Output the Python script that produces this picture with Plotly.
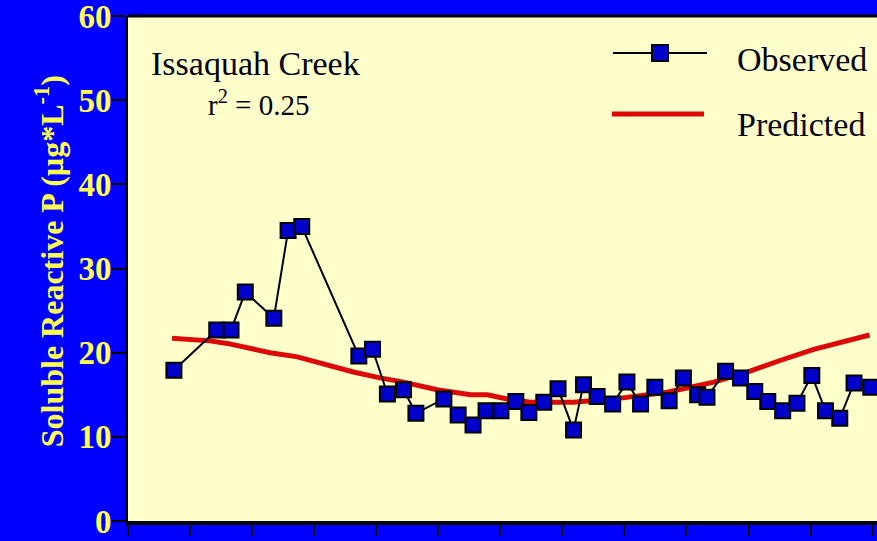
import plotly.graph_objects as go

# Observed soluble reactive P (x in tick-interval units, y in ug/L)
obs_x = [0.74, 1.43, 1.66, 1.89, 2.35, 2.58, 2.80, 3.72, 3.94, 4.18, 4.44, 4.64,
         5.09, 5.32, 5.56, 5.77, 6.01, 6.25, 6.46, 6.70, 6.93, 7.18, 7.34, 7.56,
         7.81, 8.04, 8.26, 8.49, 8.72, 8.95, 9.18, 9.33, 9.63, 9.87, 10.10, 10.31,
         10.55, 10.78, 11.02, 11.24, 11.47, 11.70, 11.97]
obs_y = [17.9, 22.7, 22.7, 27.2, 24.1, 34.5, 35.0, 19.6, 20.4, 15.1, 15.6, 12.8,
         14.5, 12.6, 11.4, 13.1, 13.1, 14.2, 12.9, 14.1, 15.7, 10.8, 16.2, 14.8,
         13.9, 16.5, 13.9, 15.9, 14.3, 17.0, 15.0, 14.7, 17.8, 17.0, 15.4, 14.2,
         13.1, 14.0, 17.3, 13.1, 12.2, 16.4, 15.9]

# Predicted (model) line
pred_x = [0.71, 1.32, 1.60, 2.29, 2.73, 3.63, 4.06, 4.44, 4.98, 5.52, 5.79, 6.11,
          6.48, 7.18, 7.94, 8.69, 9.44, 9.98, 10.52, 11.05, 11.95]
pred_y = [21.7, 21.4, 21.1, 20.0, 19.5, 17.7, 17.0, 16.5, 15.6, 15.0, 15.0, 14.5,
          14.1, 14.1, 14.6, 15.3, 16.5, 17.7, 19.1, 20.4, 22.1]

y_ticks = [0, 10, 20, 30, 40, 50, 60]
x_ticks = list(range(0, 13))

YELLOW = "#FFFF4D"
SERIF = "Liberation Serif, Times New Roman, serif"

fig = go.Figure()
fig.add_trace(go.Scatter(
    x=pred_x, y=pred_y, mode="lines", name="Predicted",
    line=dict(color="#DD0808", width=5), showlegend=False))
fig.add_trace(go.Scatter(
    x=obs_x, y=obs_y, mode="lines+markers", name="Observed",
    line=dict(color="black", width=2),
    marker=dict(symbol="square", size=15, color="#0000CC",
                line=dict(color="black", width=2)),
    showlegend=False))

fig.update_layout(
    width=877, height=541,
    margin=dict(l=128, r=0, t=16, b=20),
    paper_bgcolor="#0000FF",
    plot_bgcolor="#FFFFCC",
    xaxis=dict(range=[0, 12.07], tickvals=x_ticks, showticklabels=False,
               ticks="outside", ticklen=11, tickwidth=2, tickcolor="black",
               showline=True, linecolor="black", linewidth=4,
               showgrid=False, zeroline=False),
    yaxis=dict(range=[0, 60], tickvals=y_ticks, ticktext=[str(v) for v in y_ticks],
               ticks="outside", ticklen=13, tickwidth=2, tickcolor="black",
               showline=True, linecolor="black", linewidth=3,
               showgrid=False, zeroline=False, ticklabelstandoff=-6,
               ticklabeloverflow="allow",
               tickfont=dict(family=SERIF, size=33, color=YELLOW, weight="bold")),
    shapes=[
        dict(type="line", xref="paper", yref="paper", x0=0, x1=1, y0=1, y1=1,
             line=dict(color="black", width=3)),
        # legend symbols
        dict(type="line", xref="paper", yref="paper", x0=0.6475, x1=0.773,
             y0=0.9267, y1=0.9267, line=dict(color="black", width=2)),
        dict(type="rect", xref="paper", yref="paper", xsizemode="pixel",
             ysizemode="pixel", xanchor=0.7103, yanchor=0.9267,
             x0=-8, x1=8, y0=-8, y1=8, fillcolor="#0000CC",
             line=dict(color="black", width=2)),
        dict(type="line", xref="paper", yref="paper", x0=0.646, x1=0.769,
             y0=0.806, y1=0.806, line=dict(color="#DD0808", width=5)),
    ],
    annotations=[
        dict(text="Soluble Reactive P (µg*L<sup>-1</sup>)", xref="paper", yref="paper",
             x=-0.105, y=0.515, xanchor="center", yanchor="middle", textangle=-90,
             showarrow=False,
             font=dict(family=SERIF, size=32, color=YELLOW, weight="bold")),
        dict(text="Issaquah Creek", xref="paper", yref="paper", x=0.1696, y=0.905,
             xanchor="center", yanchor="middle", showarrow=False,
             font=dict(family=SERIF, size=34, color="black")),
        dict(text="r<sup>2</sup> = 0.25", xref="paper", yref="paper", x=0.1736, y=0.828,
             xanchor="center", yanchor="middle", showarrow=False,
             font=dict(family=SERIF, size=29, color="black")),
        dict(text="Observed", xref="paper", yref="paper", x=0.8104, y=0.913,
             xanchor="left", yanchor="middle", showarrow=False,
             font=dict(family=SERIF, size=34, color="black")),
        dict(text="Predicted", xref="paper", yref="paper", x=0.8104, y=0.786,
             xanchor="left", yanchor="middle", showarrow=False,
             font=dict(family=SERIF, size=34, color="black")),
    ],
)

fig.write_html(
    "out.html",
    config={"displayModeBar": False},
    post_script="document.body.style.margin='0';document.body.style.overflow='hidden';",
)
